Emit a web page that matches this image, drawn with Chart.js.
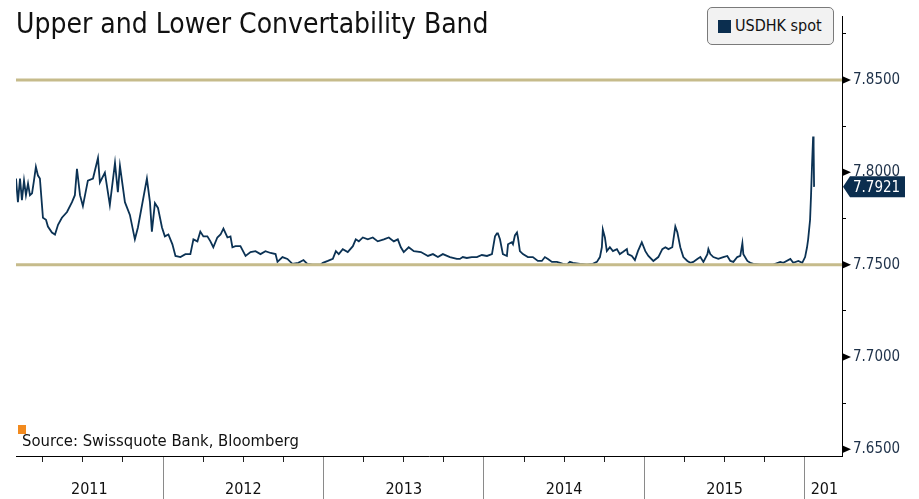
<!DOCTYPE html>
<html>
<head>
<meta charset="utf-8">
<script src="https://cdn.jsdelivr.net/npm/chart.js@4.4.1/dist/chart.umd.min.js"></script>
<style>
  body { margin: 0; background: #fff; }
  #wrap { position: relative; width: 919px; height: 499px; overflow: hidden; }
  #titulo { position: absolute; left: 16px; top: 7px; font: 28px "DejaVu Sans Condensed", "DejaVu Sans", sans-serif; font-stretch: condensed; color: #111; white-space: nowrap; }
  #legenda { position: absolute; left: 707px; top: 7px; width: 125px; height: 36px; border: 1px solid #7a7a7a; border-radius: 5px; background: #f2f2f2; font: 16px "DejaVu Sans Condensed", "DejaVu Sans", sans-serif; font-stretch: condensed; color: #111; }
  #legenda span.quad { position: absolute; left: 10px; top: 12px; width: 13px; height: 13px; background: #0b2e4f; }
  #legenda span.txt { position: absolute; left: 27px; top: 8px; white-space: nowrap; }
  #fonte { position: absolute; left: 22px; top: 431px; font: 16.5px "DejaVu Sans Condensed", "DejaVu Sans", sans-serif; font-stretch: condensed; color: #111; white-space: nowrap; }
  #marca { position: absolute; left: 18px; top: 425px; width: 8px; height: 9px; background: #f28a1e; }
</style>
</head>
<body>
<div id="wrap">
  <canvas id="canvas_usdhk" width="919" height="499"></canvas>
  <div id="titulo">Upper and Lower Convertability Band</div>
  <div id="legenda"><span class="quad"></span><span class="txt">USDHK spot</span></div>
  <div id="marca"></div>
  <div id="fonte">Source: Swissquote Bank, Bloomberg</div>
</div>
<script>
// datas em fração de ano
var datas = [
  2011.083, 2011.095, 2011.108, 2011.120, 2011.133, 2011.145, 2011.158, 2011.170, 2011.183, 2011.195,
  2011.207, 2011.220, 2011.232, 2011.251, 2011.270, 2011.282, 2011.307, 2011.326, 2011.345, 2011.369,
  2011.401, 2011.432, 2011.450, 2011.463, 2011.482, 2011.500, 2011.531, 2011.563, 2011.594, 2011.606,
  2011.637, 2011.668, 2011.700, 2011.718, 2011.731, 2011.762, 2011.793, 2011.824, 2011.843, 2011.899,
  2011.918, 2011.930, 2011.949, 2011.968, 2011.993,
  2012.011, 2012.033, 2012.058, 2012.077, 2012.108, 2012.139, 2012.170, 2012.189, 2012.214, 2012.232,
  2012.251, 2012.276, 2012.295, 2012.313, 2012.338, 2012.358, 2012.376, 2012.401, 2012.420, 2012.432,
  2012.451, 2012.482, 2012.514, 2012.545, 2012.576, 2012.607, 2012.638, 2012.670, 2012.701, 2012.713,
  2012.744, 2012.775, 2012.806, 2012.843, 2012.875, 2012.899, 2012.931, 2012.956, 2012.980,
  2012.996, 2013.027, 2013.058, 2013.077, 2013.095, 2013.120, 2013.151, 2013.183, 2013.201, 2013.220,
  2013.245, 2013.276, 2013.307, 2013.338, 2013.376, 2013.407, 2013.438, 2013.463, 2013.482, 2013.500,
  2013.531, 2013.563, 2013.607, 2013.651, 2013.682, 2013.713, 2013.744, 2013.788, 2013.831, 2013.850,
  2013.868, 2013.893, 2013.924, 2013.956, 2013.987,
  2014.019, 2014.050, 2014.069, 2014.081, 2014.087, 2014.100, 2014.118, 2014.143, 2014.150, 2014.174,
  2014.181, 2014.193, 2014.206, 2014.212, 2014.224, 2014.243, 2014.274, 2014.305, 2014.336, 2014.361,
  2014.380, 2014.399, 2014.424, 2014.455, 2014.474, 2014.492, 2014.517, 2014.536, 2014.555, 2014.598,
  2014.642, 2014.679, 2014.704, 2014.723, 2014.735, 2014.741, 2014.754, 2014.766, 2014.785, 2014.804,
  2014.829, 2014.847, 2014.866, 2014.891, 2014.897, 2014.922, 2014.941, 2014.960, 2014.984,
  2015.006, 2015.025, 2015.056, 2015.087, 2015.112, 2015.131, 2015.150, 2015.174, 2015.193, 2015.206,
  2015.224, 2015.243, 2015.268, 2015.287, 2015.305, 2015.330, 2015.349, 2015.368, 2015.393, 2015.399,
  2015.411, 2015.430, 2015.461, 2015.492, 2015.517, 2015.536, 2015.555, 2015.579, 2015.598, 2015.611,
  2015.617, 2015.642, 2015.660, 2015.679, 2015.723, 2015.766, 2015.804, 2015.847, 2015.866, 2015.910,
  2015.928, 2015.960, 2015.984,
  2016.002, 2016.014, 2016.021, 2016.033, 2016.039, 2016.045, 2016.052, 2016.055, 2016.058
];
var usdhk = [
  7.7966, 7.7838, 7.7966, 7.7849, 7.7955, 7.7876, 7.7939, 7.7876, 7.7886, 7.7955,
  7.8029, 7.7982, 7.7966, 7.7754, 7.7743, 7.7706, 7.7674, 7.7663, 7.7716, 7.7754,
  7.7785, 7.7838, 7.7876, 7.8019, 7.7876, 7.7817, 7.7955, 7.7966, 7.8077, 7.7945,
  7.7998, 7.7823, 7.8051, 7.7892, 7.8035, 7.7838, 7.7769, 7.7637, 7.7701, 7.7966,
  7.7838, 7.7679, 7.7833, 7.7807, 7.7701,
  7.7653, 7.7663, 7.7610, 7.7547, 7.7541, 7.7557, 7.7557, 7.7637, 7.7626, 7.7679,
  7.7653, 7.7653, 7.7626, 7.7594, 7.7647, 7.7663, 7.7695, 7.7647, 7.7653, 7.7594,
  7.7600, 7.7600, 7.7547, 7.7568, 7.7573, 7.7557, 7.7573, 7.7563, 7.7557, 7.7515,
  7.7541, 7.7531, 7.7504, 7.7510, 7.7525, 7.7504, 7.7500, 7.7500, 7.7500,
  7.7510, 7.7520, 7.7531, 7.7573, 7.7557, 7.7584, 7.7568, 7.7600, 7.7637, 7.7626,
  7.7647, 7.7637, 7.7647, 7.7626, 7.7637, 7.7647, 7.7626, 7.7637, 7.7594, 7.7568,
  7.7594, 7.7573, 7.7568, 7.7547, 7.7557, 7.7541, 7.7557, 7.7541, 7.7531, 7.7531,
  7.7541, 7.7536, 7.7541, 7.7541, 7.7552,
  7.7547, 7.7557, 7.7653, 7.7669, 7.7669, 7.7637, 7.7557, 7.7547, 7.7610, 7.7621,
  7.7610, 7.7658, 7.7674, 7.7647, 7.7573, 7.7557, 7.7541, 7.7541, 7.7520, 7.7520,
  7.7541, 7.7531, 7.7515, 7.7515, 7.7510, 7.7504, 7.7500, 7.7515, 7.7510, 7.7504,
  7.7500, 7.7504, 7.7515, 7.7541, 7.7594, 7.7690, 7.7647, 7.7573, 7.7594, 7.7573,
  7.7584, 7.7557, 7.7568, 7.7584, 7.7557, 7.7547, 7.7525, 7.7573, 7.7621,
  7.7573, 7.7547, 7.7520, 7.7541, 7.7584, 7.7594, 7.7584, 7.7594, 7.7706, 7.7674,
  7.7594, 7.7541, 7.7520, 7.7510, 7.7515, 7.7531, 7.7541, 7.7515, 7.7557, 7.7584,
  7.7557, 7.7541, 7.7531, 7.7541, 7.7547, 7.7520, 7.7515, 7.7541, 7.7547, 7.7616,
  7.7557, 7.7520, 7.7510, 7.7504, 7.7500, 7.7500, 7.7500, 7.7515, 7.7510, 7.7531,
  7.7510, 7.7520, 7.7510,
  7.7541, 7.7594, 7.7637, 7.7743, 7.7876, 7.8035, 7.8194, 7.8141, 7.7921
];

var bandaSuperior = 7.85;   // limites da banda de conversibilidade
var bandaInferior = 7.75;

var anos = [2011, 2012, 2013, 2014, 2015, 2016];
var rotulosAnos = ['2011', '2012', '2013', '2014', '2015', '2016'];
var posRotulos = [2011.54, 2012.5, 2013.5, 2014.5, 2015.5, 2016.151];  // centro de cada ano visível
var ticksY = [7.65, 7.675, 7.70, 7.725, 7.75, 7.775, 7.80, 7.825, 7.85, 7.875];

var xMin = 2011.083, xMax = 2016.232;
var yMin = 7.6464, yMax = 7.8846;

var corLinha = '#0b3254';
var corBanda = '#c6bb8b';

function ehMaior(v) {
    return Math.round(v * 1000) % 50 === 0;
}
function ehAno(v) {
    return Math.abs(v - Math.round(v)) < 0.001;
}

var pontos = datas.map((d, i) => ({ x: d, y: usdhk[i] }));

// setas pretas nas marcas principais + caixa do último valor
const pluginEixo = {
    id: 'pluginEixo',
    afterDraw(chart) {
        const ctx = chart.ctx;
        const y = chart.scales.y;
        const area = chart.chartArea;
        ctx.save();
        // corta o "2016" na borda do eixo como no original
        ctx.fillStyle = '#fff';
        ctx.fillRect(area.right - 3, area.bottom + 8, 919 - area.right + 3, 499 - area.bottom);
        ctx.fillStyle = '#000';
        ticksY.forEach(v => {
            if (!ehMaior(v)) return;
            const py = y.getPixelForValue(v);
            ctx.beginPath();
            ctx.moveTo(area.right, py - 4);
            ctx.lineTo(area.right + 9, py);
            ctx.lineTo(area.right, py + 4);
            ctx.closePath();
            ctx.fill();
        });
        const ultimo = usdhk[usdhk.length - 1];
        const py = y.getPixelForValue(ultimo);
        const x0 = area.right + 1;
        ctx.fillStyle = '#0b2e4f';
        ctx.beginPath();
        ctx.moveTo(x0, py);
        ctx.lineTo(x0 + 7, py - 10.5);
        ctx.lineTo(905, py - 10.5);
        ctx.lineTo(905, py + 10.5);
        ctx.lineTo(x0 + 7, py + 10.5);
        ctx.closePath();
        ctx.fill();
        ctx.fillStyle = '#fff';
        ctx.font = '15px "DejaVu Sans Condensed", "DejaVu Sans", sans-serif';
        ctx.textBaseline = 'middle';
        ctx.textAlign = 'left';
        ctx.fillText(ultimo.toFixed(4), x0 + 10, py + 1);
        ctx.restore();
    }
};

const grafico = new Chart(document.getElementById('canvas_usdhk'), {
    type: 'line',
    data: {
        datasets: [{
            label: 'USDHK spot',
            data: pontos,
            borderColor: corLinha,
            borderWidth: 1.8,
            pointRadius: 0,
            tension: 0,
            order: 2
        }, {
            label: 'Upper band',
            data: [{ x: xMin, y: bandaSuperior }, { x: xMax, y: bandaSuperior }],
            borderColor: corBanda,
            borderWidth: 3,
            pointRadius: 0,
            order: 1
        }, {
            label: 'Lower band',
            data: [{ x: xMin, y: bandaInferior }, { x: xMax, y: bandaInferior }],
            borderColor: corBanda,
            borderWidth: 3,
            pointRadius: 0,
            order: 1
        }]
    },
    plugins: [pluginEixo],
    options: {
        responsive: false,
        animation: false,
        layout: { padding: { left: 16, top: 7, right: 0, bottom: 0 } },
        plugins: { legend: { display: false }, tooltip: { enabled: false } },
        scales: {
            x: {
                type: 'linear',
                position: 'bottom',
                min: xMin,
                max: xMax,
                afterFit: s => { s.height = 0; },
                afterBuildTicks: s => {
                    var lista = [];
                    for (var a = 2011; a <= 2016; a++) {
                        for (var q = 0; q < 4; q++) {
                            var v = a + q * 0.25;
                            if (v >= xMin && v <= xMax) lista.push({ value: v });
                        }
                    }
                    s.ticks = lista;
                },
                ticks: { display: false },
                border: { display: true, color: '#000', width: 1 },
                grid: {
                    drawOnChartArea: false,
                    drawTicks: true,
                    tickLength: 43,
                    tickColor: c => ehAno(c.tick.value) ? '#8a8a8a' : '#222',
                    tickBorderDash: c => ehAno(c.tick.value) ? [] : [5, 200]
                }
            },
            xl: {
                type: 'linear',
                position: 'bottom',
                min: xMin,
                max: xMax,
                afterFit: s => { s.height = 43; },
                afterBuildTicks: s => {
                    s.ticks = posRotulos.map(v => ({ value: v }));
                },
                ticks: {
                    autoSkip: false,
                    maxRotation: 0,
                    padding: 24,
                    color: '#111',
                    font: { family: '"DejaVu Sans Condensed", "DejaVu Sans", sans-serif', size: 16 },
                    callback: (v, i) => rotulosAnos[i]
                },
                border: { display: false },
                grid: { display: false, drawTicks: false }
            },
            y: {
                type: 'linear',
                position: 'right',
                min: yMin,
                max: yMax,
                afterFit: s => { s.width = 77; },
                afterBuildTicks: s => {
                    s.ticks = ticksY.map(v => ({ value: v }));
                },
                ticks: {
                    autoSkip: false,
                    padding: 7,
                    color: '#1e3149',
                    font: { family: '"DejaVu Sans Condensed", "DejaVu Sans", sans-serif', size: 15 },
                    callback: v => ehMaior(v) ? v.toFixed(4) : ''
                },
                border: { display: true, color: '#000', width: 1 },
                grid: {
                    drawOnChartArea: false,
                    drawTicks: true,
                    tickLength: 4,
                    tickColor: c => ehMaior(c.tick.value) ? 'rgba(0,0,0,0)' : '#000'
                }
            }
        }
    }
});
</script>
</body>
</html>
